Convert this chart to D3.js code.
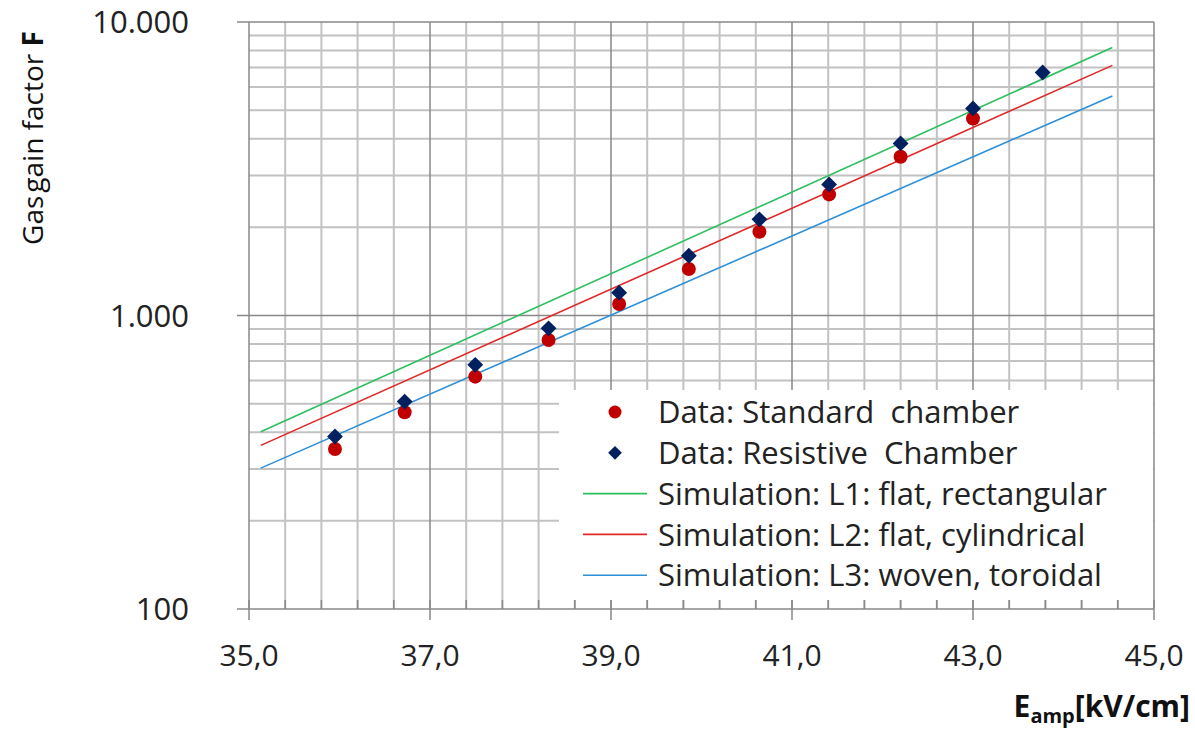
<!DOCTYPE html>
<meta charset="UTF-8">
<svg width="1195" height="729"></svg>
<style>
body { margin: 0; background: #fff; }
svg { font-family: "Open Sans", sans-serif; }
.minor { stroke: #c2c2c2; stroke-width: 2px; }
.major { stroke: #888; stroke-width: 1.5px; }
.sim { fill: none; stroke-width: 1.6px; }
</style>
<script src="https://d3js.org/d3.v7.min.js"></script>
<script>
// field strength [kV/cm] of the measured points
var fieldStd = [35.95, 36.72, 37.50, 38.31, 39.09, 39.86, 40.64, 41.41, 42.20, 43.00]
var gainStd  = [351, 468, 619, 825, 1094, 1440, 1929, 2586, 3474, 4692]

var fieldRes = [35.95, 36.72, 37.50, 38.31, 39.09, 39.86, 40.64, 41.41, 42.20, 43.00, 43.77]
var gainRes  = [387, 509, 679, 904, 1196, 1598, 2126, 2797, 3858, 5076, 6731]

// simulation lines (start / end of each curve)
var simField = [35.13, 44.54]
var simL1 = [402, 8185]
var simL2 = [361, 7115]
var simL3 = [302, 5598]

var legendNames = ["Data: Standard  chamber", "Data: Resistive  Chamber",
    "Simulation: L1: flat, rectangular", "Simulation: L2: flat, cylindrical", "Simulation: L3: woven, toroidal"]
var legendColors = ["#c00000", "#002060", "#2dbf5f", "#e02828", "#2d8fd8"]

var xTicks = [35, 37, 39, 41, 43, 45]
var yTicks = [100, 1000, 10000]

var svg = d3.select("svg")
var x = d3.scaleLinear().domain([35, 45]).range([249, 1154])
var y = d3.scaleLog().domain([100, 10000]).range([609, 22])

var de = d3.formatLocale({decimal: ",", thousands: ".", grouping: [3], currency: ["", "€"]})
var fmtY = de.format(",d"), fmtX = de.format(".1f")

// grid
var xMinor = d3.range(0, 26).map(i => 35 + i * 0.4).filter(v => xTicks.indexOf(Math.round(v * 10) / 10) < 0)
var yMinor = []
;[100, 1000].forEach(dec => { for (var k = 2; k <= 9; k++) yMinor.push(dec * k) })

var grid = svg.append("g")
grid.selectAll(".vx").data(xMinor).enter().append("line")
    .attr("class", "minor")
    .attr("x1", d => x(d)).attr("x2", d => x(d))
    .attr("y1", y(10000)).attr("y2", y(100))
grid.selectAll(".hy").data(yMinor).enter().append("line")
    .attr("class", "minor")
    .attr("x1", x(35)).attr("x2", x(45))
    .attr("y1", d => y(d)).attr("y2", d => y(d))
grid.selectAll(".vX").data(xTicks.slice(1)).enter().append("line")
    .attr("class", "major")
    .attr("x1", d => x(d)).attr("x2", d => x(d))
    .attr("y1", y(10000)).attr("y2", y(100))
grid.selectAll(".hY").data(yTicks.slice(1)).enter().append("line")
    .attr("class", "major")
    .attr("x1", 237).attr("x2", x(45))
    .attr("y1", d => y(d)).attr("y2", d => y(d))

// legend box hides the grid under it
svg.append("rect")
    .attr("x", 559).attr("y", 390)
    .attr("width", x(45) - 559 - 1).attr("height", 210)
    .style("fill", "#fff")

// axes
var ax = svg.append("g").style("stroke", "#888").style("stroke-width", "1.5px")
ax.append("line").attr("x1", x(35)).attr("x2", x(35)).attr("y1", y(10000)).attr("y2", y(100))
ax.append("line").attr("x1", 237).attr("x2", x(45)).attr("y1", y(100)).attr("y2", y(100))
ax.selectAll(".tx").data(xTicks).enter().append("line")
    .attr("x1", d => x(d)).attr("x2", d => x(d))
    .attr("y1", y(100) - 9).attr("y2", y(100) + 11)
ax.selectAll(".tm").data(xMinor).enter().append("line")
    .attr("x1", d => x(d)).attr("x2", d => x(d))
    .attr("y1", y(100) - 9).attr("y2", y(100))

svg.append("g").selectAll("text").data(xTicks).enter().append("text")
    .attr("x", d => x(d)).attr("y", 666)
    .style("text-anchor", "middle").style("font-size", "30px").style("fill", "#222")
    .text(d => fmtX(d))
svg.append("g").selectAll("text").data(yTicks).enter().append("text")
    .attr("x", 189).attr("y", d => y(d)).attr("dy", "0.36em")
    .style("text-anchor", "end").style("font-size", "31px").style("fill", "#222")
    .text(d => fmtY(d))

// simulation lines
var line = d3.line().x(d => x(d[0])).y(d => y(d[1]))
;[simL1, simL2, simL3].forEach((s, i) => {
    svg.append("path").attr("class", "sim")
        .attr("d", line(simField.map((f, j) => [f, s[j]])))
        .style("stroke", legendColors[i + 2])
})

// data points
svg.append("g").selectAll("circle").data(fieldStd).enter().append("circle")
    .attr("cx", d => x(d)).attr("cy", (d, i) => y(gainStd[i]))
    .attr("r", 7).style("fill", legendColors[0])
svg.append("g").selectAll("path").data(fieldRes).enter().append("path")
    .attr("d", d3.symbol().type(d3.symbolDiamond2).size(160))
    .attr("transform", (d, i) => "translate(" + x(d) + "," + y(gainRes[i]) + ")")
    .style("fill", legendColors[1])

// legend
var lg = svg.append("g").selectAll("g").data(legendNames).enter().append("g")
    .attr("transform", (d, i) => "translate(0," + (412 + i * 40.8) + ")")
lg.append("text").attr("x", 658).attr("dy", "0.36em")
    .style("font-size", "31px").style("fill", "#222").style("white-space", "pre")
    .text(d => d)
lg.filter((d, i) => i == 0).append("circle").attr("cx", 615).attr("r", 6.5).style("fill", legendColors[0])
lg.filter((d, i) => i == 1).append("path")
    .attr("d", d3.symbol().type(d3.symbolDiamond2).size(120))
    .attr("transform", "translate(615,0)").style("fill", legendColors[1])
lg.filter((d, i) => i > 1).append("line")
    .attr("x1", 583).attr("x2", 647)
    .style("stroke", (d, i) => legendColors[i + 2]).style("stroke-width", "1.6px")

// axis titles
var yt = svg.append("text")
    .attr("transform", "translate(43,138) rotate(-90)")
    .style("text-anchor", "middle").style("font-size", "28px").style("fill", "#111")
yt.append("tspan").text("Gas")
yt.append("tspan").attr("dx", 3).text("gain factor ")
yt.append("tspan").style("font-weight", "bold").text("F")

var xt = svg.append("text")
    .attr("x", 1190).attr("y", 717)
    .style("text-anchor", "end").style("font-size", "30px").style("font-weight", "bold").style("fill", "#111")
xt.append("tspan").text("E")
xt.append("tspan").attr("dy", 6).style("font-size", "20px").text("amp")
xt.append("tspan").attr("dy", -6).text("[kV/cm]")
</script>
